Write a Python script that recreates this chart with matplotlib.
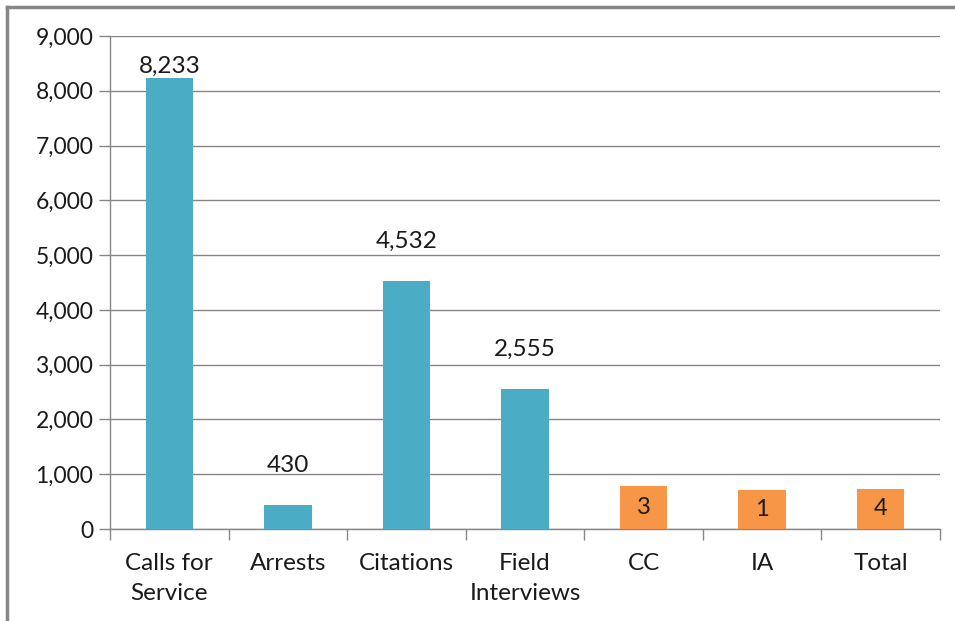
import matplotlib.pyplot as plt
import numpy as np
from matplotlib.lines import Line2D

# data
categories = ["Calls for\nService", "Arrests", "Citations", "Field\nInterviews", "CC", "IA", "Total"]
heights = [8233, 430, 4532, 2555, 785, 712, 736]
labels = ["8,233", "430", "4,532", "2,555", "3", "1", "4"]
colors = ["#4BACC6"] * 4 + ["#F79646"] * 3
inside = [False, False, False, False, True, True, True]
yticks = np.arange(0, 9001, 1000)

plt.rcParams["font.family"] = ["Lato", "DejaVu Sans"]
grey = "#868686"
txt = "#1a1a1a"

fig = plt.figure(figsize=(9.55, 6.21), dpi=100)
ax = fig.add_axes([110 / 955, 1 - 529 / 621, 830 / 955, 493 / 621])

x = np.arange(len(categories))
bars = ax.bar(x, heights, width=0.4, color=colors, zorder=3)

for i, (b, lab) in enumerate(zip(bars, labels)):
    cx = b.get_x() + b.get_width() / 2
    h = b.get_height()
    if inside[i]:
        ax.annotate(lab, (cx, h / 2), ha="center", va="center", fontsize=17, color=txt, zorder=4)
    else:
        off = 1 if h > 8000 else 21
        ax.annotate(lab, (cx, h), xytext=(0, off), textcoords="offset points",
                    ha="center", va="bottom", fontsize=17.5, color=txt, zorder=4)

ax.set_xlim(-0.5, len(categories) - 0.5)
ax.set_ylim(0, 9000)
ax.set_yticks(yticks)
ax.set_yticklabels([f"{v:,}" for v in yticks], fontsize=16.5, color=txt)
ax.yaxis.grid(True, color=grey, linewidth=1, zorder=0)

ax.set_xticks(x)
ax.set_xticklabels(categories, fontsize=17.5, color=txt, linespacing=1.55)
ax.set_xticks(np.arange(-0.5, len(categories)), minor=True)
ax.tick_params(axis="x", which="major", length=0, pad=17)
ax.tick_params(axis="x", which="minor", length=8, color=grey, width=1)
ax.tick_params(axis="y", length=8, color=grey, width=1, pad=4)

for s in ["top", "right"]:
    ax.spines[s].set_visible(False)
for s in ["left", "bottom"]:
    ax.spines[s].set_color(grey)
    ax.spines[s].set_linewidth(1)

# outer frame on left and top edges
fig.add_artist(Line2D([7 / 955, 7 / 955], [0, 1 - 7 / 621], color=grey, linewidth=2.5))
fig.add_artist(Line2D([7 / 955, 1], [1 - 7 / 621, 1 - 7 / 621], color=grey, linewidth=2.5))

fig.savefig("out.png", dpi=100)
